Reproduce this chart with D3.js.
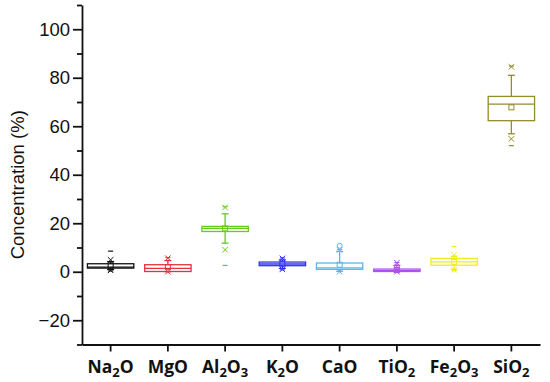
<!DOCTYPE html>
<html>
<head>
<meta charset="utf-8">
<script src="https://cdn.jsdelivr.net/npm/d3@7"></script>
<style>
  body { margin: 0; background: #fff; }
</style>
</head>
<body>
<div id="chart"></div>
<script>
// oxide names and box statistics (%)
const oxides      = ["Na2O", "MgO", "Al2O3", "K2O", "CaO", "TiO2", "Fe2O3", "SiO2"];
const colors      = ["#111111", "#e8323a", "#66cc1a", "#3434ee", "#5ab4f0", "#b050ee", "#eeee1e", "#948c2c"];
const q1          = [1.5, 0.1, 16.6, 2.5, 1.0, 0.1, 2.7, 62.3];
const median      = [1.9, 1.4, 17.9, 3.2, 1.6, 0.5, 4.1, 69.1];
const q3          = [3.3, 2.9, 18.7, 4.0, 3.6, 1.1, 5.5, 72.3];
const whiskerLow  = [0.9, 0.1, 11.8, 1.4, 0.2, 0.1, 1.0, 56.9];
const whiskerHigh = [4.2, 4.6, 23.9, 4.9, 8.4, 2.6, 6.4, 81.0];
const means       = [2.6, 1.9, 17.9, 3.3, 2.9, 0.7, 4.0, 67.8];
const p1          = [0.6, 0.0, 9.1, 1.0, 0.0, 0.0, 0.8, 54.8];
const p99         = [4.9, 5.6, 26.5, 5.5, 9.0, 3.7, 7.0, 84.5];
const minV        = [0.3, 0.0, 2.6, 0.8, 0.1, 0.0, 0.5, 52.0];
const maxV        = [8.5, 5.8, 26.8, 5.7, 9.2, 3.8, 10.4, 84.8];
const outliers    = [[], [], [], [], [10.7], [1.9], [], []];
const yTicks      = [-20, 0, 20, 40, 60, 80, 100];

const width = 550, height = 382;
const margins = {top: 5, right: 10, bottom: 37.5, left: 82};

const svg = d3.select("#chart")
  .append("svg")
    .attr("width", width)
    .attr("height", height);

const yScale = d3.scaleLinear()
  .domain([-30, 110])
  .range([height - margins.bottom, margins.top]);

const xScale = d3.scaleBand()
  .domain(oxides)
  .range([margins.left, width - margins.right])
  .padding(0);

const boxW = xScale.bandwidth() * 0.81;
const cx = name => xScale(name) + xScale.bandwidth() / 2;

const data = oxides.map((name, i) => ({
  name, color: colors[i],
  q1: q1[i], med: median[i], q3: q3[i],
  lo: whiskerLow[i], hi: whiskerHigh[i],
  mean: means[i], p1: p1[i], p99: p99[i],
  min: minV[i], max: maxV[i], out: outliers[i]
}));

/* boxes */
const g = svg.selectAll("g.box")
  .data(data)
  .join("g")
    .attr("class", "box")
    .style("stroke", d => d.color)
    .style("fill", "none")
    .style("stroke-width", 1.3);

// whiskers
g.append("line")
  .attr("x1", d => cx(d.name)).attr("x2", d => cx(d.name))
  .attr("y1", d => yScale(d.q3)).attr("y2", d => yScale(d.hi));
g.append("line")
  .attr("x1", d => cx(d.name)).attr("x2", d => cx(d.name))
  .attr("y1", d => yScale(d.q1)).attr("y2", d => yScale(d.lo));
g.append("line")
  .attr("x1", d => cx(d.name) - 3.5).attr("x2", d => cx(d.name) + 3.5)
  .attr("y1", d => yScale(d.hi)).attr("y2", d => yScale(d.hi));
g.append("line")
  .attr("x1", d => cx(d.name) - 3.5).attr("x2", d => cx(d.name) + 3.5)
  .attr("y1", d => yScale(d.lo)).attr("y2", d => yScale(d.lo));

g.append("rect")
  .attr("x", d => cx(d.name) - boxW / 2)
  .attr("width", boxW)
  .attr("y", d => yScale(d.q3))
  .attr("height", d => yScale(d.q1) - yScale(d.q3))
  .style("fill", "#fff");

g.append("line")
  .attr("x1", d => cx(d.name) - boxW / 2).attr("x2", d => cx(d.name) + boxW / 2)
  .attr("y1", d => yScale(d.med)).attr("y2", d => yScale(d.med));

// mean square
g.append("rect")
  .attr("x", d => cx(d.name) - 2.5).attr("width", 5)
  .attr("y", d => yScale(d.mean) - 2.5).attr("height", 5)
  .style("stroke-width", 1);

// 1% / 99% crosses
const cross = d3.symbol().type(d3.symbolX).size(22);
["p1", "p99"].forEach(k => {
  g.append("path")
    .attr("d", cross)
    .attr("transform", d => `translate(${cx(d.name)},${yScale(d[k])})`)
    .style("stroke-width", 1);
});

// min / max dashes
["min", "max"].forEach(k => {
  g.append("line")
    .attr("x1", d => cx(d.name) - 2.5).attr("x2", d => cx(d.name) + 2.5)
    .attr("y1", d => yScale(d[k])).attr("y2", d => yScale(d[k]))
    .style("stroke-width", 1.2);
});

// outliers
g.selectAll("circle")
  .data(d => d.out.map(v => ({v, name: d.name})))
  .join("circle")
    .attr("cx", d => cx(d.name))
    .attr("cy", d => yScale(d.v))
    .attr("r", 2.5)
    .style("stroke-width", 1);

/* axes */
const yAxis = d3.axisLeft(yScale)
  .tickValues(yTicks)
  .tickSize(9)
  .tickSizeOuter(0)
  .tickPadding(3);

const yGroup = svg.append("g")
  .attr("transform", `translate(${margins.left},0)`)
  .call(yAxis);

yGroup.attr("font-family", null);
yGroup.selectAll("text")
  .attr("font-family", "Liberation Sans")
  .attr("font-size", 18.5)
  .attr("fill", "#111");

// minor ticks
const yMinor = d3.axisLeft(yScale)
  .tickValues(d3.range(-30, 111, 20))
  .tickSize(5)
  .tickSizeOuter(0)
  .tickFormat("");
svg.append("g")
  .attr("transform", `translate(${margins.left},0)`)
  .call(yMinor)
  .select(".domain").remove();

const xAxis = d3.axisBottom(xScale)
  .tickSize(7)
  .tickSizeOuter(0)
  .tickFormat("");

svg.append("g")
  .attr("transform", `translate(0,${height - margins.bottom})`)
  .call(xAxis);

svg.selectAll(".domain, .tick line")
  .style("stroke", "#111")
  .style("stroke-width", 1.8);

// x labels with subscripts
const xLabels = svg.selectAll("text.xlab")
  .data(oxides)
  .join("text")
    .attr("class", "xlab")
    .attr("x", d => cx(d))
    .attr("y", height - 9.5)
    .attr("text-anchor", "middle")
    .attr("font-family", "Open Sans")
    .attr("font-weight", 700)
    .attr("font-size", 17.5)
    .attr("fill", "#111");

xLabels.each(function(d) {
  const t = d3.select(this);
  let shift = 0;
  d.match(/[A-Za-z]+|\d+/g).forEach(part => {
    if (/\d/.test(part)) {
      t.append("tspan").attr("dy", 4).attr("font-size", 13).text(part);
      shift = -4;
    } else {
      t.append("tspan").attr("dy", shift).text(part);
      shift = 0;
    }
  });
});

svg.append("text")
  .attr("transform", `translate(24,${(yScale(-30) + yScale(110)) / 2 + 10}) rotate(-90)`)
  .attr("text-anchor", "middle")
  .attr("font-family", "Liberation Sans")
  .attr("font-size", 18.5)
  .attr("fill", "#111")
  .text("Concentration (%)");
</script>
</body>
</html>
